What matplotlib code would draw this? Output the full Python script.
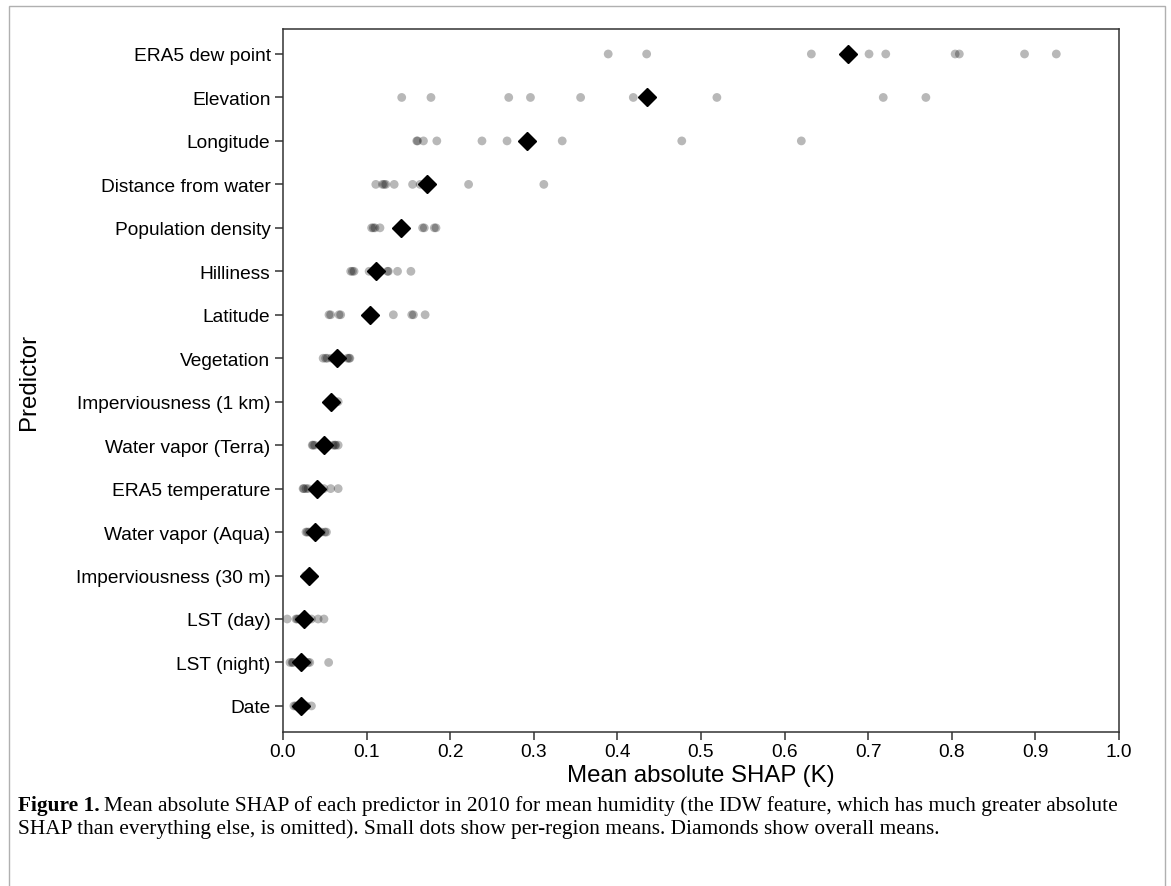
import matplotlib
matplotlib.use("Agg")
import matplotlib.pyplot as plt
from matplotlib.patches import Rectangle

predictors = ["ERA5 dew point", "Elevation", "Longitude", "Distance from water",
              "Population density", "Hilliness", "Latitude", "Vegetation",
              "Imperviousness (1 km)", "Water vapor (Terra)", "ERA5 temperature",
              "Water vapor (Aqua)", "Imperviousness (30 m)", "LST (day)",
              "LST (night)", "Date"]

region_means = [
    [0.389, 0.435, 0.632, 0.701, 0.721, 0.804, 0.809, 0.887, 0.925],
    [0.142, 0.177, 0.270, 0.296, 0.356, 0.419, 0.519, 0.718, 0.769],
    [0.160, 0.161, 0.168, 0.184, 0.238, 0.268, 0.334, 0.477, 0.620],
    [0.111, 0.119, 0.121, 0.123, 0.133, 0.155, 0.164, 0.222, 0.312],
    [0.106, 0.108, 0.110, 0.116, 0.167, 0.169, 0.181, 0.183],
    [0.081, 0.083, 0.085, 0.103, 0.125, 0.126, 0.137, 0.153],
    [0.055, 0.057, 0.067, 0.069, 0.132, 0.154, 0.156, 0.170],
    [0.048, 0.051, 0.053, 0.058, 0.077, 0.079, 0.080],
    [0.055, 0.058, 0.062, 0.066],
    [0.035, 0.036, 0.038, 0.060, 0.062, 0.063, 0.066],
    [0.024, 0.025, 0.0275, 0.030, 0.049, 0.057, 0.066],
    [0.0275, 0.029, 0.031, 0.046, 0.050, 0.052],
    [0.027, 0.029, 0.031, 0.033, 0.035],
    [0.005, 0.0155, 0.017, 0.019, 0.034, 0.042, 0.049],
    [0.0084, 0.011, 0.012, 0.030, 0.032, 0.0546],
    [0.013, 0.015, 0.017, 0.028, 0.034],
]

overall_means = [0.676, 0.435, 0.292, 0.172, 0.141, 0.111, 0.104, 0.0645,
                 0.058, 0.049, 0.0405, 0.0386, 0.0307, 0.0247, 0.021, 0.0215]

xticks = [0.0, 0.1, 0.2, 0.3, 0.4, 0.5, 0.6, 0.7, 0.8, 0.9, 1.0]

plt.rcParams['font.family'] = ['Liberation Sans', 'DejaVu Sans']

fig = plt.figure(figsize=(11.71, 8.87), dpi=100)
ax = fig.add_axes([283/1171, 1 - 733/887, (1119-283)/1171, (733-30)/887])

for i, vals in enumerate(region_means):
    ax.scatter(vals, [i]*len(vals), s=40, color='black', alpha=0.28,
               edgecolors='none', zorder=2)
ax.plot(overall_means, range(len(predictors)), linestyle='none', marker='D',
        markersize=9, color='black', zorder=3)

ax.set_xlim(0, 1.0)
ax.set_ylim(len(predictors) - 1 + 0.6, -0.575)
ax.set_xticks(xticks)
ax.set_xticklabels([f"{t:.1f}" for t in xticks])
ax.set_yticks(range(len(predictors)))
ax.set_yticklabels(predictors)
ax.tick_params(axis='both', direction='out', length=6, width=1.1,
               color='#333333', labelsize=13.8, pad=3)
ax.tick_params(axis='x', pad=2)
for sp in ax.spines.values():
    sp.set_color('#333333')
    sp.set_linewidth(1.1)
ax.set_xlabel("Mean absolute SHAP (K)", fontsize=17.3, labelpad=3)
ax.set_ylabel("Predictor", fontsize=17.3)
ax.yaxis.set_label_coords(-0.291, 0.5)

# outer frame
fig.patches.append(Rectangle((9/1171, -0.1), (1165-9)/1171, 1 - 7/887 + 0.1,
                             transform=fig.transFigure, fill=False,
                             edgecolor='#b0b0b0', linewidth=1.0))

# caption
serif = ['Liberation Serif', 'DejaVu Serif']
cap_fs = 15.4
x0 = 18/1171
t1 = fig.text(x0, 1 - 806/887, "Figure 1.", fontsize=cap_fs, fontweight='bold',
              family=serif, va='center', ha='left')
fig.canvas.draw()
r = fig.canvas.get_renderer()
bb = t1.get_window_extent(r)
x1 = (bb.x1 + 4) / fig.bbox.width
fig.text(x1, 1 - 806/887,
         "Mean absolute SHAP of each predictor in 2010 for mean humidity (the IDW feature, which has much greater absolute",
         fontsize=cap_fs, family=serif, va='center', ha='left')
fig.text(x0, 1 - 829/887,
         "SHAP than everything else, is omitted). Small dots show per-region means. Diamonds show overall means.",
         fontsize=cap_fs, family=serif, va='center', ha='left')

fig.savefig("out.png", dpi=100)
